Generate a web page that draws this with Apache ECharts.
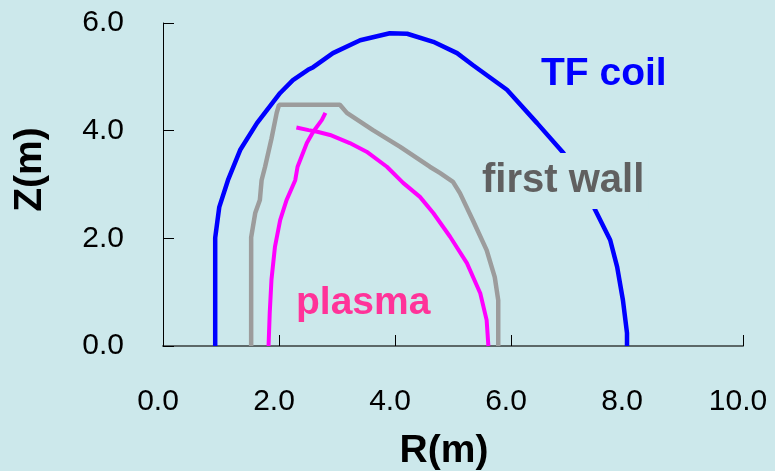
<!DOCTYPE html>
<html>
<head>
<meta charset="utf-8">
<script src="https://cdn.jsdelivr.net/npm/echarts@6/dist/echarts.min.js"></script>
<style>
  html, body { margin: 0; padding: 0; background: #cce8eb; }
  #main { width: 775px; height: 471px; }
</style>
</head>
<body>
<div id="main"></div>
<script>
// [R, Z] points
var tfCoil = [[0.90, 0], [0.90, 2.01], [0.97, 2.58], [1.12, 3.08], [1.33, 3.64], [1.62, 4.14],
  [2.02, 4.70], [2.24, 4.94], [2.50, 5.13], [2.59, 5.18], [2.93, 5.44], [3.40, 5.68],
  [3.91, 5.81], [4.21, 5.80], [4.66, 5.65], [5.07, 5.44], [5.34, 5.22], [5.93, 4.76],
  [6.45, 4.14], [6.90, 3.59], [7.25, 3.02], [7.45, 2.53], [7.71, 1.97], [7.83, 1.47],
  [7.93, 0.85], [8.0, 0.24], [8.0, 0]];

var firstWall = [[1.52, 0], [1.52, 2.02], [1.59, 2.47], [1.67, 2.71], [1.70, 3.08], [1.76, 3.33],
  [1.87, 3.85], [1.96, 4.33], [2.0, 4.48], [3.05, 4.48], [3.17, 4.33], [3.62, 4.01],
  [4.09, 3.70], [4.60, 3.33], [4.78, 3.21], [5.0, 3.05], [5.12, 2.84], [5.34, 2.34],
  [5.58, 1.78], [5.72, 1.28], [5.78, 0.85], [5.78, 0]];

var plasmaInner = [[1.82, 0], [1.84, 0.61], [1.87, 1.23], [1.93, 1.84], [2.02, 2.34], [2.13, 2.71],
  [2.28, 3.08], [2.32, 3.33], [2.48, 3.77], [2.59, 3.98], [2.74, 4.20], [2.80, 4.33]];

var plasmaOuter = [[2.30, 4.06], [2.51, 4.01], [2.66, 3.98], [2.88, 3.92], [3.22, 3.77], [3.51, 3.61],
  [3.86, 3.33], [4.14, 3.03], [4.43, 2.77], [4.66, 2.47], [4.95, 2.03], [5.24, 1.54],
  [5.47, 0.98], [5.58, 0.48], [5.61, 0]];

var xRange = [0, 10];
var zRange = [0, 6];

var myChart = echarts.init(document.getElementById('main'));

function lineSeries(name, data, color, width) {
  return {
    name: name,
    type: 'line',
    data: data,
    showSymbol: false,
    symbol: 'none',
    lineStyle: { color: color, width: width },
    animation: false
  };
}

var option = {
  backgroundColor: '#cce8eb',
  animation: false,
  grid: { left: 163, right: 32, top: 23, bottom: 125, outerBoundsMode: 'none' },
  xAxis: {
    type: 'value',
    min: xRange[0], max: xRange[1], interval: 2,
    name: 'R(m)',
    nameLocation: 'middle',
    nameGap: 86,
    nameTextStyle: { fontFamily: 'Liberation Sans', fontWeight: 'bold', fontSize: 39, color: '#000', padding: [0, 18, 0, 0] },
    axisLine: { lineStyle: { color: '#5c6868', width: 2 } },
    axisTick: { inside: true, length: 11, lineStyle: { color: '#000' } },
    axisLabel: {
      margin: 41, fontFamily: 'Liberation Sans', fontSize: 30, color: '#000',
      padding: [0, 10, 0, 0],
      formatter: function (v) { return v.toFixed(1); }
    },
    splitLine: { show: false }
  },
  yAxis: {
    type: 'value',
    min: zRange[0], max: zRange[1], interval: 2,
    name: 'Z(m)',
    nameLocation: 'middle',
    nameGap: 113,
    nameTextStyle: { fontFamily: 'Liberation Sans', fontWeight: 'bold', fontSize: 39, color: '#000', padding: [0, 0, 0, 30] },
    axisLine: { show: true, lineStyle: { color: '#000', width: 1 } },
    axisTick: { show: true, inside: true, length: 11, lineStyle: { color: '#000' } },
    axisLabel: {
      margin: 39, fontFamily: 'Liberation Sans', fontSize: 30, color: '#000',
      padding: [8, 0, 0, 0],
      formatter: function (v) { return v.toFixed(1); }
    },
    splitLine: { show: false }
  },
  graphic: [
    { type: 'text', z: 100, style: { x: 541, y: 74, text: 'TF coil', fill: '#0000ff', font: 'bold 39px "Liberation Sans"', verticalAlign: 'middle', align: 'left' } },
    { type: 'text', z: 100, style: { x: 478, y: 181, text: 'first wall', fill: '#606060', font: 'bold 40px "Liberation Sans"', verticalAlign: 'middle', align: 'left', backgroundColor: '#cce8eb', padding: [8, 4, 8, 4] } },
    { type: 'text', z: 100, style: { x: 296, y: 303, text: 'plasma', fill: '#ff3399', font: 'bold 39px "Liberation Sans"', verticalAlign: 'middle', align: 'left' } }
  ],
  series: [
    lineSeries('TF coil', tfCoil, '#0000ff', 4.5),
    lineSeries('first wall', firstWall, '#9c9c9c', 4.5),
    lineSeries('plasma', plasmaInner, '#ff00ff', 4),
    lineSeries('plasma', plasmaOuter, '#ff00ff', 4)
  ]
};

myChart.setOption(option);
</script>
</body>
</html>
